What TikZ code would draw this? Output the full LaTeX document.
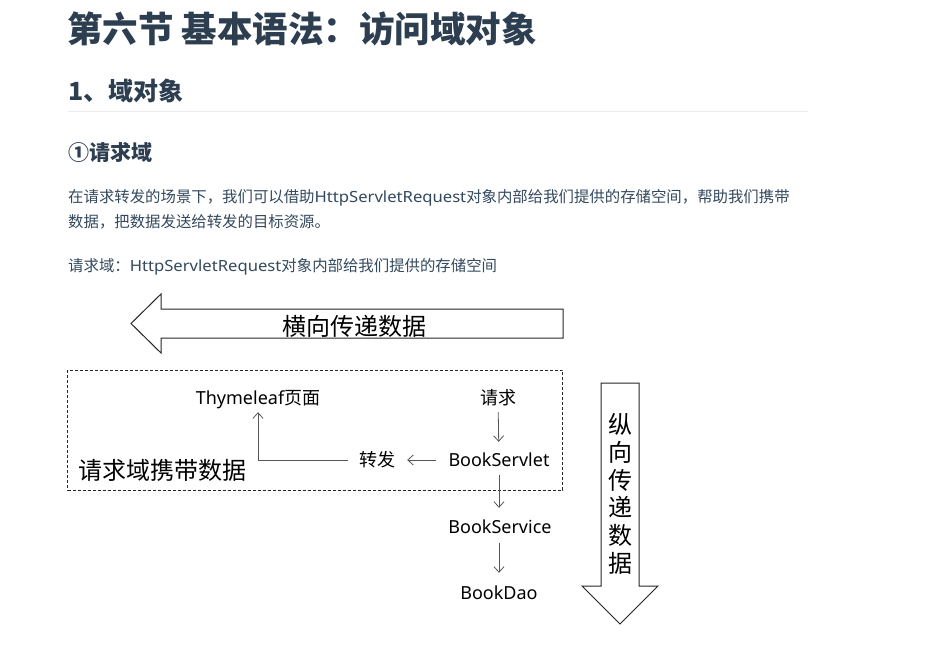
\documentclass[tikz,border=0pt]{standalone}
\usepackage{fontspec}
\setmainfont{Noto Sans}
\newfontfamily\cjk{Noto Sans CJK SC}
\newfontfamily\lat{Noto Sans}[FakeStretch=1.08]
\newfontfamily\dlat{Noto Sans}
\usetikzlibrary{arrows.meta}
\definecolor{headc}{HTML}{2C3E50}
\definecolor{bodyc}{HTML}{34495E}
\definecolor{rulec}{HTML}{EAECEF}
\definecolor{linec}{HTML}{555555}
\tikzset{
  heading/.style={anchor=west, inner sep=0pt, text=headc},
  para/.style={anchor=base west, inner sep=0pt, text=bodyc, font=\cjk\fontsize{15.4}{18}\selectfont},
  dtext/.style={inner sep=0pt, text height=15pt, text depth=2pt, font=\cjk\fontsize{18}{20}\selectfont},
  arr/.style={draw=linec, line width=0.8pt, -{Straight Barb[length=5.5pt,width=10pt]}},
  bigarrow/.style={draw=black!85, line width=1pt, fill=white},
  bigtext/.style={inner sep=0pt, font=\cjk\fontsize{24}{27.7}\selectfont},
}
\begin{document}
\begin{tikzpicture}[x=1pt,y=-1pt]
\useasboundingbox[fill=white] (0,0) rectangle (941,663);

% headings
\node[heading, font=\cjk\bfseries\fontsize{35.5}{40}\selectfont] (title) at (67,29) {第六节 基本语法：访问域对象};
\node[heading, font=\cjk\bfseries\fontsize{25}{28}\selectfont] (h1) at (68,91) {1、域对象};
\draw[rulec, line width=1pt] (68,112) -- (808,112);
\node[heading, font=\cjk\bfseries\fontsize{21}{24}\selectfont] (h2) at (68,152) {①请求域};

% paragraph
\node[para] (p1) at (68,202) {在请求转发的场景下，我们可以借助{\lat HttpServletRequest}对象内部给我们提供的存储空间，帮助我们携带};
\node[para] (p2) at (68,227) {数据，把数据发送给转发的目标资源。};
\node[para] (p3) at (68,271) {请求域：{\lat HttpServletRequest}对象内部给我们提供的存储空间};

% horizontal big arrow
\draw[bigarrow] (131,323.5) -- (161,294) -- (161,309) -- (563,309) -- (563,338) -- (161,338) -- (161,353) -- cycle;
\node[bigtext] (htext) at (354,326) {横向传递数据};

% vertical big arrow
\draw[bigarrow] (601,383) -- (639,383) -- (639,586) -- (658,586) -- (620,624) -- (582,586) -- (601,586) -- cycle;
\node[bigtext, align=center] (vtext) at (620,494) {纵\\向\\传\\递\\数\\据};

% dashed box
\draw[black!85, line width=0.9pt, dash pattern=on 3pt off 2pt] (67.5,370) rectangle (562.5,490);
\node[bigtext, anchor=west] (carry) at (78,470) {请求域携带数据};

% diagram nodes
\node[dtext] (thy) at (258,398) {{\dlat Thymeleaf}页面};
\node[dtext] (req) at (498,398) {请求};
\node[dtext] (servlet) at (499,460) {\dlat BookServlet};
\node[dtext] (fwd) at (377,460) {转发};
\node[dtext] (service) at (500,527) {\dlat BookService};
\node[dtext] (dao) at (499,593) {\dlat BookDao};

% connectors
\draw[arr, shorten <=5.5pt, shorten >=9.5pt] (req) -- (servlet);
\draw[arr, shorten <=6.5pt, shorten >=10.5pt] (servlet.south) -- (servlet.south |- service.north);
\draw[arr, shorten <=7.5pt, shorten >=11.5pt] (service.south -| servlet.south) -- (servlet.south |- dao.north);
\draw[arr, shorten <=12pt, shorten >=12pt] (servlet.west) -- (fwd.east);
\draw[arr, shorten <=11pt, shorten >=5.5pt] (fwd.west) -| (thy.south);
\end{tikzpicture}
\end{document}
